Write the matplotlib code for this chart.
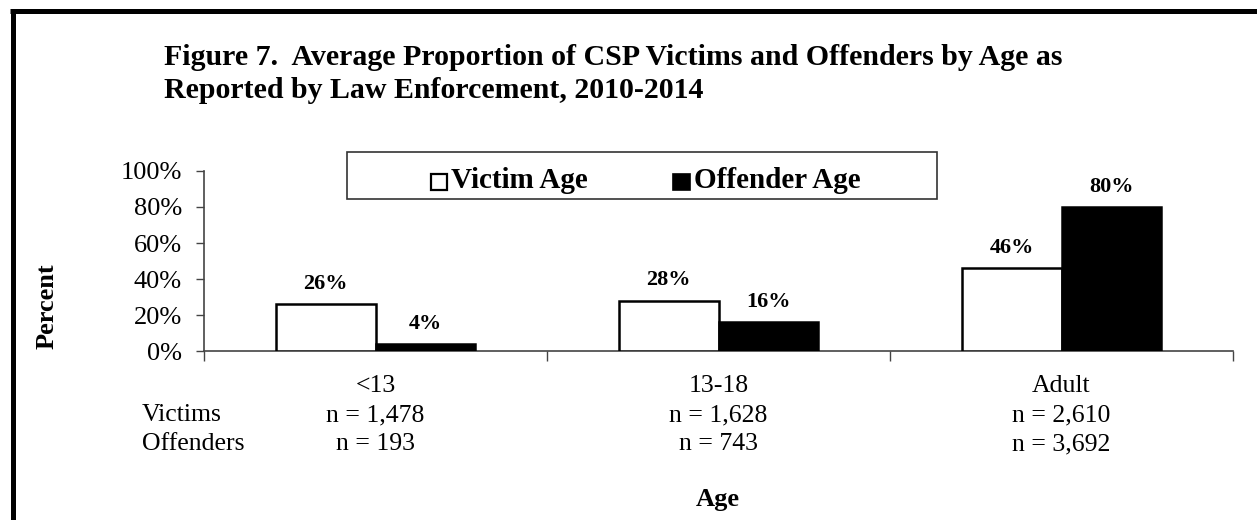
import numpy as np
import matplotlib
matplotlib.use("Agg")
import matplotlib.pyplot as plt
import matplotlib.transforms as mtransforms
from matplotlib.patches import Rectangle
from matplotlib.lines import Line2D

plt.rcParams['font.family'] = ['Liberation Serif', 'DejaVu Serif']

# data
categories = ['<13', '13-18', 'Adult']
victim_pct = [26, 28, 46]
offender_pct = [4, 16, 80]
victim_n = ['n = 1,478', 'n = 1,628', 'n = 2,610']
offender_n = ['n = 193', 'n = 743', 'n = 3,692']
yticks = [0, 20, 40, 60, 80, 100]

W, H = 1257, 520
fig = plt.figure(figsize=(W / 100, H / 100), dpi=100)

def fx(px):
    return px / W

def fy(py):
    return 1 - py / H

# thick frame on top and left only
fig.add_artist(Line2D([fx(12.5), fx(12.5)], [fy(10), fy(520)], color='black', lw=3.6,
                      solid_capstyle='butt', transform=fig.transFigure))
fig.add_artist(Line2D([fx(10), fx(1257)], [fy(10.5), fy(10.5)], color='black', lw=3.6,
                      solid_capstyle='butt', transform=fig.transFigure))

ax = fig.add_axes([fx(204), fy(351), fx(1233) - fx(204), fy(171) - fy(351)])

x = np.arange(len(categories))
bw = 0.29
ax.bar(x - bw / 2, victim_pct, bw, color='white', edgecolor='black', linewidth=1.8, zorder=3)
ax.bar(x + bw / 2, offender_pct, bw, color='black', edgecolor='black', linewidth=1.8, zorder=3)

for i in range(len(categories)):
    ax.annotate(f'{victim_pct[i]}%', (x[i] - bw / 2, victim_pct[i]), xytext=(0, 11),
                textcoords='offset points', ha='center', va='baseline', fontsize=16, fontweight='bold')
    ax.annotate(f'{offender_pct[i]}%', (x[i] + bw / 2, offender_pct[i]), xytext=(0, 11),
                textcoords='offset points', ha='center', va='baseline', fontsize=16, fontweight='bold')

ax.set_xlim(-0.5, len(categories) - 0.5)
ax.set_ylim(0, 100)
ax.set_yticks(yticks)
ax.set_yticklabels([f'{t}%' for t in yticks], fontsize=19)
ax.set_xticks(np.arange(len(categories) + 1) - 0.5)
ax.set_xticklabels([])
ax.tick_params(axis='y', direction='out', length=6, width=1, color='#444444', pad=10)
ax.tick_params(axis='x', direction='out', length=7, width=1, color='#444444')
for s in ['top', 'right']:
    ax.spines[s].set_visible(False)
for s in ['left', 'bottom']:
    ax.spines[s].set_color('#444444')
    ax.spines[s].set_linewidth(1.2)

# category labels and n rows under the axis
tr = mtransforms.blended_transform_factory(ax.transData, fig.transFigure)
for i, c in enumerate(categories):
    ax.text(x[i], fy(392), c, transform=tr, ha='center', va='baseline', fontsize=18.5)
    ax.text(x[i], fy(421), victim_n[i], transform=tr, ha='center', va='baseline', fontsize=18.5)
    ax.text(x[i], fy(450), offender_n[i], transform=tr, ha='center', va='baseline', fontsize=18.5)
fig.text(fx(142), fy(421), 'Victims', ha='left', va='baseline', fontsize=18.5)
fig.text(fx(142), fy(450), 'Offenders', ha='left', va='baseline', fontsize=18.5)

fig.text(fx(718), fy(506), 'Age', ha='center', va='baseline', fontsize=19, fontweight='bold')
fig.text(fx(47), fy(306), 'Percent', ha='center', va='center', rotation=90, fontsize=19, fontweight='bold')

# title
fig.text(fx(164), fy(65), 'Figure 7.  Average Proportion of CSP Victims and Offenders by Age as',
         ha='left', va='baseline', fontsize=21.5, fontweight='bold')
fig.text(fx(164), fy(98), 'Reported by Law Enforcement, 2010-2014',
         ha='left', va='baseline', fontsize=21.5, fontweight='bold')

# legend box
fig.add_artist(Rectangle((fx(347), fy(199)), fx(937) - fx(347), fy(152) - fy(199),
                         transform=fig.transFigure, facecolor='white', edgecolor='#333333', lw=1.2, zorder=5))
fig.add_artist(Rectangle((fx(431), fy(190)), fx(16), fy(0) - fy(16), transform=fig.transFigure,
                         facecolor='white', edgecolor='black', lw=1.6, zorder=6))
fig.text(fx(451), fy(188), 'Victim Age', ha='left', va='baseline', fontsize=21, fontweight='bold', zorder=6)
fig.add_artist(Rectangle((fx(673), fy(190)), fx(17), fy(0) - fy(16), transform=fig.transFigure,
                         facecolor='black', edgecolor='black', lw=1.2, zorder=6))
fig.text(fx(694), fy(188), 'Offender Age', ha='left', va='baseline', fontsize=21, fontweight='bold', zorder=6)

fig.savefig('out.png', dpi=100, facecolor='white')
